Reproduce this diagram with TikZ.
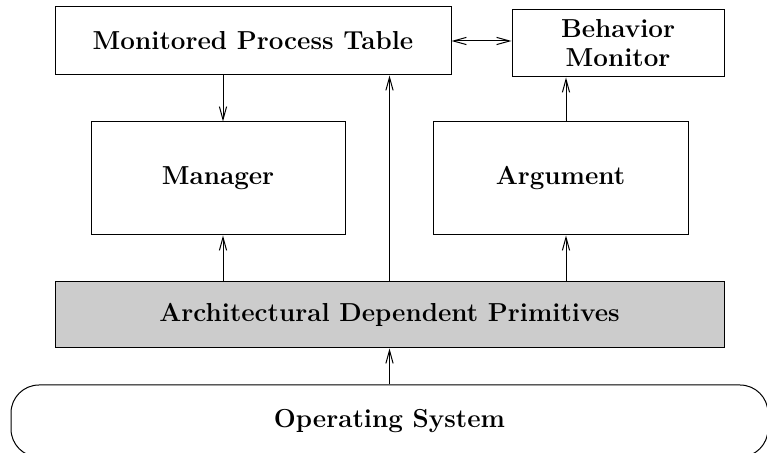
\documentclass[tikz,border=0pt]{standalone}
\usepackage{tikz}
\usetikzlibrary{arrows.meta,positioning,calc}
\definecolor{adpgray}{HTML}{CCCCCC}

\begin{document}
\begin{tikzpicture}[
  x=0.5pt, y=-0.5pt,
  block/.style={draw=black, line width=0.5pt, fill=white,
                font=\fontsize{13}{14.5}\selectfont\bfseries, align=center, inner sep=0pt},
  prim/.style={block, fill=adpgray},
  ossys/.style={block, rounded corners=14pt},
  arr/.style={-{Straight Barb[length=6.5pt,width=3.6pt]}, line width=0.5pt},
  darr/.style={{Straight Barb[length=6.5pt,width=3.6pt]}-{Straight Barb[length=6.5pt,width=3.6pt]}, line width=0.5pt},
]
\useasboundingbox (0,0) rectangle (767,453);

%% Fila superior
\node[block, minimum width=198pt, minimum height=34pt] (mpt) at (253,41) {Monitored Process Table};
\node[block, minimum width=106pt, minimum height=33.5pt] (bm) at (618,43.5) {Behavior\\Monitor};

%% Fila central
\node[block, minimum width=127pt, minimum height=56.5pt] (mgr) at (218,178.5) {Manager};
\node[block, minimum width=127.5pt, minimum height=56.5pt] (arg) at (560.5,178.5) {Argument};

%% Primitivas y sistema operativo
\node[prim, minimum width=334.5pt, minimum height=33pt] (adp) at (389.5,315) {Architectural Dependent Primitives};
\node[ossys, minimum width=378.5pt, minimum height=36pt] (os) at (389.5,421) {Operating System};

%% Flechas
\draw[darr] (mpt.east) -- (mpt.east -| bm.west);
\draw[arr] ([xshift=2.5pt]mgr.north |- mpt.south) -- ([xshift=2.5pt]mgr.north);
\draw[arr] ([xshift=2.5pt]mgr.south |- adp.north) -- ([xshift=2.5pt]mgr.south);
\draw[arr] (adp.north) -- (adp.north |- mpt.south);
\draw[arr] ([xshift=2.75pt]arg.south |- adp.north) -- ([xshift=2.75pt]arg.south);
\draw[arr] ([xshift=2.75pt]arg.north) -- ([xshift=2.75pt]arg.north |- bm.south);
\draw[arr] (os.north) -- (adp.south);

\end{tikzpicture}
\end{document}
